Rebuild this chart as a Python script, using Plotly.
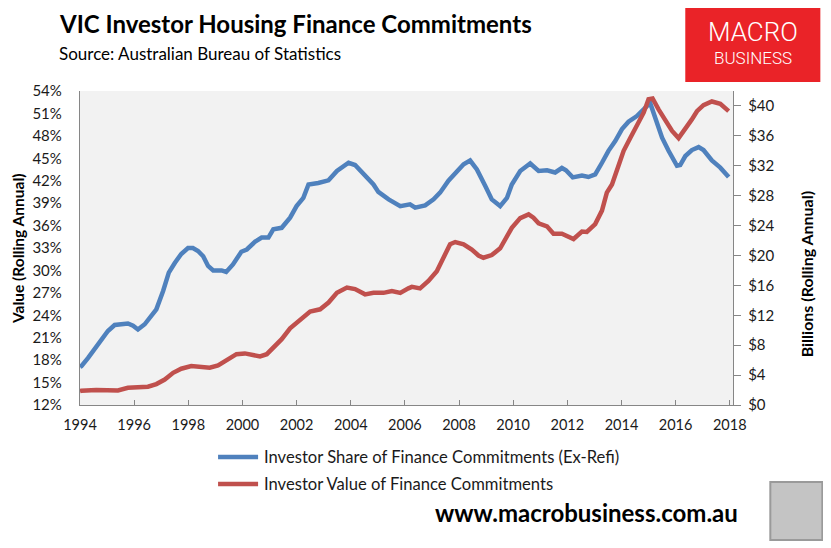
import plotly.graph_objects as go

# ---------------- data ----------------
share_years = [1994.0, 1994.05, 1994.3, 1994.54, 1994.79, 1995.03, 1995.28, 1995.5, 1995.77, 1995.96,
               1996.14, 1996.39, 1996.58, 1996.82, 1997.07, 1997.28, 1997.5, 1997.74, 1997.99, 1998.17,
               1998.36, 1998.55, 1998.73, 1998.92, 1999.23, 1999.4, 1999.65, 1999.96, 2000.16, 2000.47,
               2000.71, 2000.96, 2001.14, 2001.45, 2001.76, 2002.0, 2002.25, 2002.44, 2002.8, 2003.18,
               2003.49, 2003.92, 2004.16, 2004.53, 2004.84, 2005.02, 2005.4, 2005.83, 2006.07, 2006.19,
               2006.38, 2006.75, 2007.06, 2007.3, 2007.61, 2007.92, 2008.17, 2008.41, 2008.66, 2008.97,
               2009.21, 2009.52, 2009.77, 2009.95, 2010.26, 2010.63, 2010.94, 2011.25, 2011.55, 2011.8,
               2011.95, 2012.2, 2012.54, 2012.78, 2013.03, 2013.28, 2013.52, 2013.77, 2014.02, 2014.26,
               2014.57, 2014.82, 2015.06, 2015.25, 2015.5, 2015.74, 2016.05, 2016.17, 2016.36, 2016.6,
               2016.85, 2017.03, 2017.34, 2017.65, 2017.96]
share_pct = [17.1, 17.2, 18.3, 19.45, 20.8, 21.9, 22.7, 22.8, 22.9, 22.6,
             22.1, 22.8, 23.7, 24.8, 27.25, 29.7, 31.0, 32.2, 33.0, 33.0,
             32.6, 31.9, 30.6, 30.0, 30.0, 29.8, 30.8, 32.5, 32.8, 33.85,
             34.4, 34.4, 35.5, 35.7, 37.05, 38.6, 39.7, 41.5, 41.7, 42.05,
             43.3, 44.4, 44.1, 42.6, 41.5, 40.5, 39.5, 38.6, 38.85, 38.85,
             38.4, 38.7, 39.5, 40.4, 42.0, 43.2, 44.2, 44.7, 43.5, 41.3,
             39.5, 38.6, 39.7, 41.5, 43.3, 44.3, 43.3, 43.4, 43.1, 43.7,
             43.4, 42.45, 42.7, 42.5, 42.85, 44.4, 46.0, 47.3, 48.9, 49.9,
             50.65, 51.55, 52.4, 50.4, 47.75, 46.0, 44.0, 44.1, 45.3, 46.1,
             46.5, 46.1, 44.7, 43.75, 42.5]

value_years = [1994.0, 1994.05, 1994.6, 1995.1, 1995.4, 1995.77, 1996.1, 1996.51, 1996.82, 1997.13,
               1997.44, 1997.74, 1998.11, 1998.48, 1998.79, 1999.1, 1999.47, 1999.78, 2000.09, 2000.28,
               2000.65, 2000.9, 2001.14, 2001.45, 2001.76, 2002.07, 2002.25, 2002.5, 2002.87, 2003.18,
               2003.49, 2003.86, 2004.16, 2004.53, 2004.84, 2005.21, 2005.52, 2005.83, 2006.13, 2006.26,
               2006.56, 2006.87, 2007.18, 2007.43, 2007.67, 2007.86, 2008.17, 2008.47, 2008.72, 2008.9,
               2009.21, 2009.52, 2009.77, 2009.95, 2010.26, 2010.57, 2010.75, 2010.94, 2011.25, 2011.49,
               2011.8, 2012.05, 2012.23, 2012.54, 2012.72, 2013.03, 2013.28, 2013.46, 2013.65, 2013.89,
               2014.08, 2014.33, 2014.57, 2014.82, 2015.0, 2015.15, 2015.37, 2015.62, 2015.87, 2016.11,
               2016.36, 2016.6, 2016.79, 2017.03, 2017.34, 2017.65, 2017.96]
value_bn = [1.85, 1.9, 2.0, 2.0, 1.95, 2.3, 2.3, 2.45, 2.8, 3.4,
            4.3, 4.85, 5.2, 5.1, 5.0, 5.3, 6.1, 6.8, 6.9, 6.8,
            6.5, 6.8, 7.65, 8.8, 10.25, 11.2, 11.7, 12.5, 12.8, 13.7,
            15.0, 15.7, 15.5, 14.8, 15.0, 15.0, 15.25, 15.0, 15.6, 15.8,
            15.6, 16.6, 17.9, 19.9, 21.5, 21.8, 21.5, 20.8, 20.0, 19.7,
            20.05, 20.95, 22.4, 23.7, 25.0, 25.5, 25.05, 24.3, 23.9, 22.9,
            22.9, 22.5, 22.2, 23.2, 23.15, 24.2, 26.0, 28.4, 29.5, 32.0,
            34.0, 35.75, 37.3, 39.1, 40.9, 41.0, 39.55, 38.2, 36.65, 35.7,
            36.9, 38.2, 39.3, 40.1, 40.6, 40.3, 39.3]

year_ticks = list(range(1994, 2019, 2))
pct_ticks = list(range(12, 55, 3))
bn_ticks = list(range(0, 41, 4))

share_name = "Investor Share of Finance Commitments (Ex-Refi)"
value_name = "Investor Value of Finance Commitments"

# ---------------- figure ----------------
OFF = 8                     # page body margin of the browser
SW, SH = 831, 548           # screenshot size
W, H = SW - OFF, SH - OFF   # figure size
# plot area in screenshot pixels
PX0, PX1, PY0, PY1 = 80, 732.7, 91, 405
L, T = PX0 - OFF, PY0 - OFF
R, B = SW - PX1, SH - PY1
PW, PH = PX1 - PX0, PY1 - PY0

def px(x):
    return (x - PX0) / PW

def py(y):
    return (PY1 - y) / PH

BLUE = "#4F81BD"
RED = "#C0504D"
AX = "#868686"
TXT = "#1a1a1a"
FONT = "Lato, Carlito, Open Sans, sans-serif"

fig = go.Figure()
fig.add_trace(go.Scatter(x=share_years, y=share_pct, name=share_name, mode="lines",
                         line=dict(color=BLUE, width=4.5), yaxis="y", showlegend=False))
fig.add_trace(go.Scatter(x=value_years, y=value_bn, name=value_name, mode="lines",
                         line=dict(color=RED, width=4.5), yaxis="y2", showlegend=False))

fig.update_layout(
    width=W, height=H,
    margin=dict(l=L, r=R, t=T, b=B, pad=0),
    paper_bgcolor="white",
    plot_bgcolor="#F2F2F2",
    font=dict(family=FONT, color=TXT, size=14),
    xaxis=dict(range=[1994, 2018.12], tickvals=year_ticks, ticktext=[str(v) for v in year_ticks],
               showgrid=False, zeroline=False, showline=True, linecolor=AX, linewidth=1.3,
               ticks="inside", ticklen=5, tickcolor=AX, tickwidth=1, ticklabelstandoff=6,
               tickfont=dict(size=14.5, color=TXT)),
    yaxis=dict(range=[12, 54], tickvals=pct_ticks, ticktext=[f"{v}%" for v in pct_ticks],
               showgrid=False, zeroline=False, showline=True, linecolor=AX, linewidth=1.3,
               ticks="", ticklabelstandoff=14, tickfont=dict(size=15, color=TXT)),
    yaxis2=dict(range=[0, 42], tickvals=bn_ticks, ticktext=[f"${v}" for v in bn_ticks],
                overlaying="y", side="right", showgrid=False, zeroline=False,
                showline=True, linecolor=AX, linewidth=1.3,
                ticks="outside", ticklen=7, tickcolor=AX, tickwidth=1, ticklabelstandoff=4,
                tickfont=dict(size=15, color=TXT)),
)

ann = []
ann.append(dict(text="<b>VIC Investor Housing Finance Commitments</b>", x=px(57), y=py(24),
                xanchor="left", yanchor="middle", font=dict(size=24, color="#000")))
ann.append(dict(text="Source: Australian Bureau of Statistics", x=px(57), y=py(54),
                xanchor="left", yanchor="middle", font=dict(size=17, color="#000")))
ann.append(dict(text="<b>Value (Rolling Annual)</b>", x=px(18), y=py(249), textangle=-90,
                xanchor="center", yanchor="middle", font=dict(size=15.5, color="#000")))
ann.append(dict(text="<b>Billions (Rolling Annual)</b>", x=px(806), y=py(274), textangle=-90,
                xanchor="center", yanchor="middle", font=dict(size=16, color="#000")))
ann.append(dict(text=share_name, x=px(262), y=py(457), xanchor="left", yanchor="middle",
                font=dict(size=16.6, color=TXT)))
ann.append(dict(text=value_name, x=px(262), y=py(484), xanchor="left", yanchor="middle",
                font=dict(size=16.6, color=TXT)))
ann.append(dict(text="<b>www.macrobusiness.com.au</b>", x=px(586), y=py(512), xanchor="center",
                yanchor="middle", font=dict(size=24, color="#000")))
ann.append(dict(text="MACRO", x=px(753), y=py(32), xanchor="center", yanchor="middle",
                font=dict(size=26, color="white", family="Roboto", weight=300)))
ann.append(dict(text="BUSINESS", x=px(753), y=py(58), xanchor="center", yanchor="middle",
                font=dict(size=17, color="white", family="Roboto", weight=300)))
for a in ann:
    a.update(xref="paper", yref="paper", showarrow=False)
fig.update_layout(annotations=ann)

shapes = [
    dict(type="rect", x0=px(685), x1=px(820), y0=py(4), y1=py(82), fillcolor="#EA2328",
         line=dict(width=0), layer="below"),
    dict(type="line", x0=px(218), x1=px(258), y0=py(457), y1=py(457),
         line=dict(color=BLUE, width=4.5)),
    dict(type="line", x0=px(218), x1=px(258), y0=py(484), y1=py(484),
         line=dict(color=RED, width=4.5)),
    dict(type="rect", x0=px(770), x1=px(822), y0=py(482), y1=py(540), fillcolor="#C4C4C4",
         line=dict(color="#9A9A9A", width=2)),
]
for s in shapes:
    s.update(xref="paper", yref="paper")
fig.update_layout(shapes=shapes)

fig.write_html("out.html")
